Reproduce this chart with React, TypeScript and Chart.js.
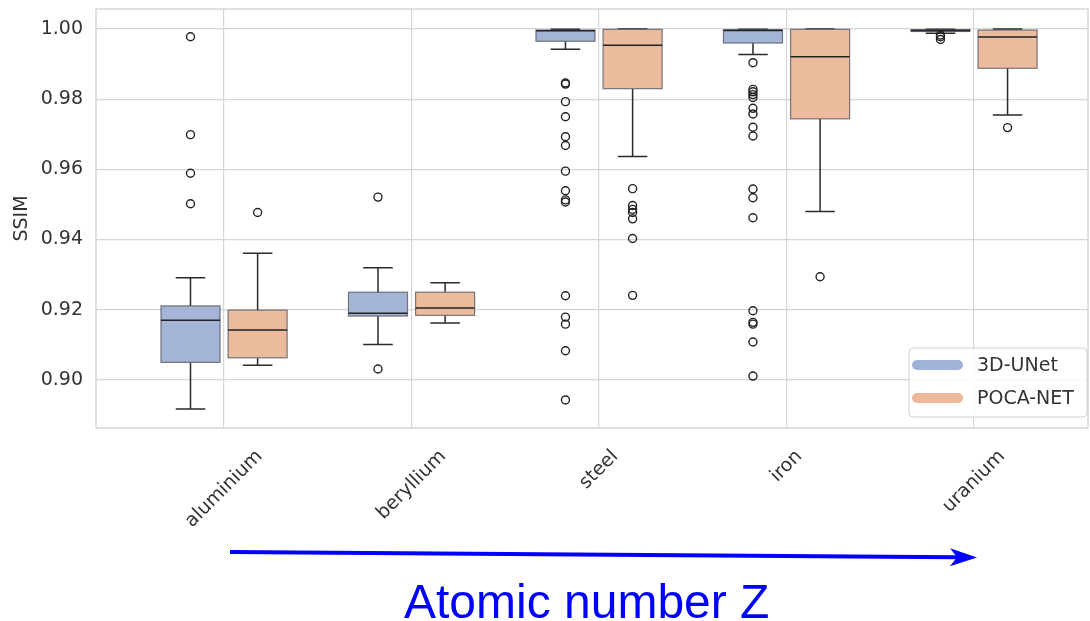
import React, { useEffect, useRef } from 'react';
import { Chart, registerables } from 'chart.js';

Chart.register(...registerables);

// ---------- data ----------
const categories = ['aluminium', 'beryllium', 'steel', 'iron', 'uranium'];
const seriesNames = ['3D-UNet', 'POCA-NET'];
const yTicks = [0.9, 0.92, 0.94, 0.96, 0.98, 1.0];

// 3D-UNet box statistics
const unetLow = [0.8917, 0.9101, 0.9942, 0.9927, 0.9988];
const unetQ1 = [0.905, 0.9182, 0.9965, 0.996, 0.9993];
const unetMedian = [0.917, 0.919, 0.9995, 0.9996, 0.9996];
const unetQ3 = [0.9211, 0.925, 0.9997, 0.9998, 0.9998];
const unetHigh = [0.9291, 0.932, 0.9999, 0.9999, 0.9999];
const unetOutliers = [
  [0.9978, 0.9699, 0.9589, 0.9502],
  [0.9521, 0.9031],
  [0.9846, 0.9843, 0.9793, 0.975, 0.9693, 0.9668, 0.9595, 0.9539, 0.9513, 0.9507, 0.924, 0.9179, 0.9159, 0.9083, 0.8943],
  [0.9904, 0.9828, 0.9821, 0.9813, 0.9805, 0.9774, 0.9758, 0.972, 0.9695, 0.9544, 0.9519, 0.9462, 0.9197, 0.9164, 0.9159, 0.9108, 0.9011],
  [0.9983, 0.9978, 0.997],
];

// POCA-NET box statistics
const pocaLow = [0.9042, 0.9162, 0.9637, 0.948, 0.9755];
const pocaQ1 = [0.9063, 0.9184, 0.983, 0.9744, 0.9888];
const pocaMedian = [0.9142, 0.9205, 0.9954, 0.9921, 0.9977];
const pocaQ3 = [0.9199, 0.925, 0.9999, 0.9999, 0.9997];
const pocaHigh = [0.9361, 0.9277, 1.0, 1.0, 1.0];
const pocaOutliers = [
  [0.9477],
  [],
  [0.9545, 0.9497, 0.9486, 0.9477, 0.9459, 0.9403, 0.9241],
  [0.9294],
  [0.9719],
];

// ---------- styles ----------
const fills = ['#a3b4d7', '#ebbb9d'];
const legendColors = ['#a0b2d8', '#ecb898'];
const boxOffsets = [-0.179, 0.179];
const boxWidth = 0.315;
const gridColor = '#d6d6d6';
const textColor = '#333333';
const FONT = "'DejaVu Sans', sans-serif";
const FONT_SIZE = 19;

const stats = [
  { low: unetLow, q1: unetQ1, med: unetMedian, q3: unetQ3, high: unetHigh, out: unetOutliers },
  { low: pocaLow, q1: pocaQ1, med: pocaMedian, q3: pocaQ3, high: pocaHigh, out: pocaOutliers },
];

const boxPlugin = {
  id: 'boxPlugin',
  beforeDatasetsDraw(chart: any) {
    const { ctx, chartArea, scales } = chart;
    const xs = scales.x;
    const ys = scales.y;
    ctx.save();
    // frame
    ctx.strokeStyle = gridColor;
    ctx.lineWidth = 1.5;
    ctx.strokeRect(chartArea.left, chartArea.top, chartArea.right - chartArea.left, chartArea.bottom - chartArea.top);
    const halfW = (xs.getPixelForValue(boxWidth) - xs.getPixelForValue(0)) / 2;
    stats.forEach((s, si) => {
      categories.forEach((_, i) => {
        const cx = xs.getPixelForValue(i + boxOffsets[si]);
        const yLow = ys.getPixelForValue(s.low[i]);
        const yQ1 = ys.getPixelForValue(s.q1[i]);
        const yMed = ys.getPixelForValue(s.med[i]);
        const yQ3 = ys.getPixelForValue(s.q3[i]);
        const yHigh = ys.getPixelForValue(s.high[i]);
        // whiskers
        ctx.strokeStyle = '#2a2a2a';
        ctx.lineWidth = 1.5;
        ctx.beginPath();
        ctx.moveTo(cx, yQ1);
        ctx.lineTo(cx, yLow);
        ctx.moveTo(cx, yQ3);
        ctx.lineTo(cx, yHigh);
        ctx.moveTo(cx - halfW / 2, yLow);
        ctx.lineTo(cx + halfW / 2, yLow);
        ctx.moveTo(cx - halfW / 2, yHigh);
        ctx.lineTo(cx + halfW / 2, yHigh);
        ctx.stroke();
        // box
        ctx.fillStyle = fills[si];
        ctx.fillRect(cx - halfW, yQ3, halfW * 2, yQ1 - yQ3);
        ctx.strokeStyle = 'rgba(80,80,90,0.75)';
        ctx.lineWidth = 1.2;
        ctx.strokeRect(cx - halfW, yQ3, halfW * 2, yQ1 - yQ3);
        // median
        ctx.strokeStyle = '#222';
        ctx.lineWidth = 1.5;
        ctx.beginPath();
        ctx.moveTo(cx - halfW, yMed);
        ctx.lineTo(cx + halfW, yMed);
        ctx.stroke();
      });
    });
    ctx.restore();
  },
  afterDraw(chart: any) {
    const { ctx, chartArea, scales } = chart;
    const xs = scales.x;
    ctx.save();
    // x tick labels rotated 45deg, centered on tick
    ctx.font = `${FONT_SIZE}px ${FONT}`;
    ctx.fillStyle = textColor;
    ctx.textAlign = 'center';
    ctx.textBaseline = 'middle';
    const h = 21;
    categories.forEach((label, i) => {
      const x = xs.getPixelForValue(i);
      const w = ctx.measureText(label).width;
      const top = chartArea.bottom + 18;
      const cy = top + (w + h) * Math.SQRT1_2 / 2;
      ctx.save();
      ctx.translate(x, cy);
      ctx.rotate(-Math.PI / 4);
      ctx.fillText(label, 0, 0);
      ctx.restore();
    });

    // legend
    const lx = chartArea.right - 179;
    const ly = chartArea.bottom - 80;
    const lw = 178;
    const lh = 69;
    ctx.fillStyle = 'rgba(255,255,255,0.85)';
    ctx.strokeStyle = '#d0d0d0';
    ctx.lineWidth = 1;
    ctx.beginPath();
    (ctx as any).roundRect(lx, ly, lw, lh, 4);
    ctx.fill();
    ctx.stroke();
    seriesNames.forEach((name, si) => {
      const yy = ly + 17 + si * 33;
      ctx.strokeStyle = legendColors[si];
      ctx.lineWidth = 10;
      ctx.lineCap = 'round';
      ctx.beginPath();
      ctx.moveTo(lx + 8, yy);
      ctx.lineTo(lx + 49, yy);
      ctx.stroke();
      ctx.fillStyle = textColor;
      ctx.font = `${FONT_SIZE}px ${FONT}`;
      ctx.textAlign = 'left';
      ctx.textBaseline = 'middle';
      ctx.fillText(name, lx + 68, yy + 1);
    });

    // arrow "Atomic number Z"
    const ax0 = 230, ay0 = 552, ax1 = 977, ay1 = 557.5;
    const ang = Math.atan2(ay1 - ay0, ax1 - ax0);
    ctx.strokeStyle = '#0000ff';
    ctx.fillStyle = '#0000ff';
    ctx.lineWidth = 4;
    ctx.lineCap = 'butt';
    ctx.beginPath();
    ctx.moveTo(ax0, ay0);
    ctx.lineTo(ax1 - 20 * Math.cos(ang), ay1 - 20 * Math.sin(ang));
    ctx.stroke();
    ctx.save();
    ctx.translate(ax1, ay1);
    ctx.rotate(ang);
    ctx.beginPath();
    ctx.moveTo(0, 0);
    ctx.lineTo(-27, -9);
    ctx.lineTo(-20, 0);
    ctx.lineTo(-27, 9);
    ctx.closePath();
    ctx.fill();
    ctx.restore();

    ctx.font = "48px 'Liberation Sans', Arial, sans-serif";
    ctx.textAlign = 'left';
    ctx.textBaseline = 'alphabetic';
    ctx.fillText('Atomic number Z', 404, 618);
    ctx.restore();
  },
};

export default function App() {
  const canvasRef = useRef<HTMLCanvasElement | null>(null);

  useEffect(() => {
    const canvas = canvasRef.current;
    if (!canvas) return;
    const datasets = stats.map((s, si) => ({
      label: seriesNames[si],
      data: s.out.flatMap((vals, i) => vals.map((v) => ({ x: i + boxOffsets[si], y: v }))),
      pointRadius: 4,
      pointBorderWidth: 1.4,
      pointBorderColor: '#222',
      pointBackgroundColor: 'rgba(0,0,0,0)',
      pointHoverRadius: 4,
      showLine: false,
    }));
    const chart = new Chart(canvas, {
      type: 'scatter',
      data: { datasets },
      options: {
        animation: false,
        responsive: false,
        events: [],
        layout: { autoPadding: false, padding: { left: 0, right: 2, top: 9, bottom: 0 } },
        plugins: {
          legend: { display: false },
          tooltip: { enabled: false },
        },
        scales: {
          x: {
            type: 'linear',
            min: -0.683,
            max: 4.608,
            afterBuildTicks: (s: any) => {
              s.ticks = categories.map((_, i) => ({ value: i }));
            },
            afterFit: (s: any) => {
              s.height = 193;
              s.paddingLeft = 0;
              s.paddingRight = 0;
              s.paddingTop = 0;
              s.paddingBottom = 0;
            },
            ticks: { display: false },
            grid: { color: gridColor, lineWidth: 1.2, drawTicks: false },
            border: { display: false },
          },
          y: {
            type: 'linear',
            min: 0.8863,
            max: 1.0057,
            afterBuildTicks: (s: any) => {
              s.ticks = yTicks.map((v) => ({ value: v }));
            },
            afterFit: (s: any) => {
              s.width = 96;
              s.paddingLeft = 0;
              s.paddingRight = 0;
              s.paddingTop = 0;
              s.paddingBottom = 0;
            },
            ticks: {
              padding: 13,
              color: textColor,
              font: { family: FONT, size: FONT_SIZE },
              callback: (v: any) => Number(v).toFixed(2),
            },
            grid: { color: gridColor, lineWidth: 1.2, drawTicks: false },
            border: { display: false },
            title: {
              display: true,
              text: 'SSIM',
              color: textColor,
              font: { family: FONT, size: FONT_SIZE },
              padding: { top: 11, bottom: 0 },
            },
          },
        },
      },
      plugins: [boxPlugin],
    } as any);
    return () => chart.destroy();
  }, []);

  return (
    <div style={{ position: 'fixed', left: 0, top: 0, width: 1090, height: 621, background: '#fff' }}>
      <canvas ref={canvasRef} width={1090} height={621} style={{ display: 'block' }} />
    </div>
  );
}
